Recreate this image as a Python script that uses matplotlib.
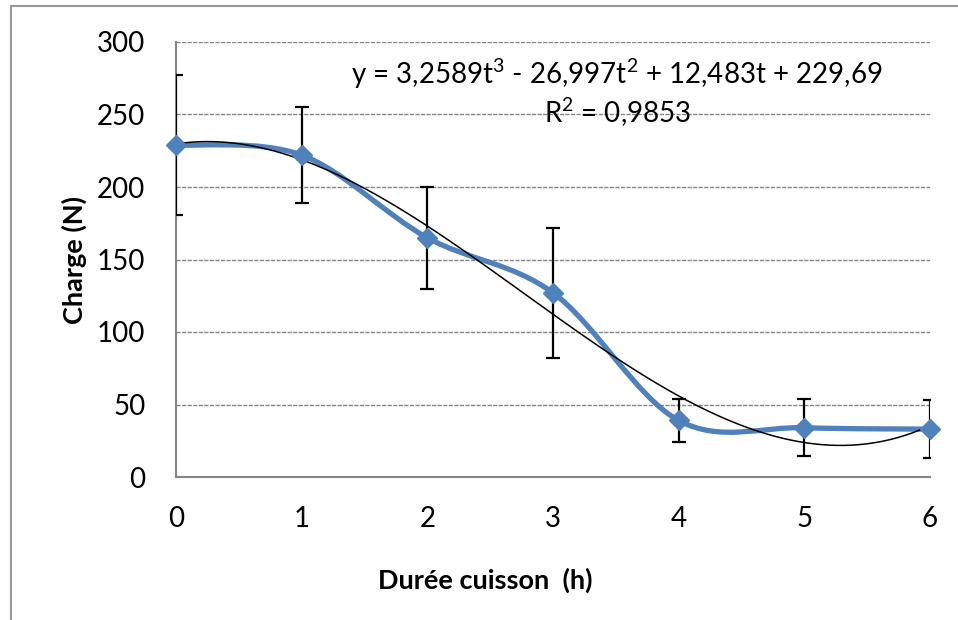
import numpy as np
import matplotlib
matplotlib.use('Agg')
import matplotlib.pyplot as plt
from matplotlib.path import Path
from matplotlib.patches import PathPatch, Rectangle

plt.rcParams['font.family'] = ['Lato', 'DejaVu Sans']
plt.rcParams['mathtext.fontset'] = 'custom'
plt.rcParams['mathtext.rm'] = 'Lato'
plt.rcParams['mathtext.it'] = 'Lato'

# données
duree = np.array([0, 1, 2, 3, 4, 5, 6])
charge = np.array([229, 222, 165, 127, 39, 34, 33])
erreur = np.array([48, 33, 35, 45, 15, 19.5, 20])

bleu = '#4F81BD'
gris = '#868686'

fig = plt.figure(figsize=(9.58, 6.2), dpi=100)
ax = fig.add_axes([176/958, 1-477/620, (930-176)/958, (477-42)/620])

# courbe lissée façon Excel (Bézier, Catmull-Rom)
pts = np.column_stack([duree, charge]).astype(float)
ext = np.vstack([pts[0], pts, pts[-1]])
verts = [pts[0]]
codes = [Path.MOVETO]
for i in range(len(pts) - 1):
    p0, p1, p2, p3 = ext[i], ext[i+1], ext[i+2], ext[i+3]
    verts += [p1 + (p2 - p0) / 6, p2 - (p3 - p1) / 6, p2]
    codes += [Path.CURVE4] * 3
ax.add_patch(PathPatch(Path(verts, codes), facecolor='none', edgecolor=bleu,
                       lw=3.8, zorder=3, capstyle='round', joinstyle='round'))

# courbe de tendance polynomiale (ordre 3)
coef = np.polyfit(duree, charge, 3)
tt = np.linspace(duree[0], duree[-1], 300)
ax.plot(tt, np.polyval(coef, tt), color='black', lw=1.1, zorder=4)

ax.errorbar(duree, charge, yerr=erreur, fmt='none', ecolor='black',
            elinewidth=1.6, capsize=5, capthick=1.6, zorder=5)
ax.plot(duree, charge, linestyle='none', marker='D', markersize=10.5,
        color=bleu, zorder=6, clip_on=False)

ax.set_xlim(0, 6)
ax.set_ylim(0, 300)
ax.set_xticks(range(0, 7))
ax.set_yticks(range(0, 301, 50))
ax.yaxis.grid(True, color=gris, linestyle=(0, (3, 1)), lw=1.0)
ax.set_axisbelow(True)
for s in ['top', 'right']:
    ax.spines[s].set_visible(False)
for s in ['left', 'bottom']:
    ax.spines[s].set_color(gris)
    ax.spines[s].set_linewidth(1.5)
ax.tick_params(axis='both', length=0, labelsize=20)
ax.tick_params(axis='y', pad=22)
ax.tick_params(axis='x', pad=21)

ax.set_xlabel('Durée cuisson  (h)', fontsize=19.5, fontweight='bold', va='center')
ax.xaxis.set_label_coords(0.41, -0.238)
ax.set_ylabel('Charge (N)', fontsize=19.5, fontweight='bold', labelpad=7)

ax.text(0.585, 0.927,
        r'y = 3,2589t$^{3}$ - 26,997t$^{2}$ + 12,483t + 229,69',
        transform=ax.transAxes, ha='center', va='center', fontsize=20)
ax.text(0.585, 0.838, r'R$^{2}$ = 0,9853', transform=ax.transAxes,
        ha='center', va='center', fontsize=20)

# cadre du graphique
fig.add_artist(Rectangle((11/958, -0.2), 1.2, 1.2 - 6/620,
                         transform=fig.transFigure, fill=False,
                         edgecolor='#999999', lw=1.5))

fig.savefig('out.png', dpi=100)
